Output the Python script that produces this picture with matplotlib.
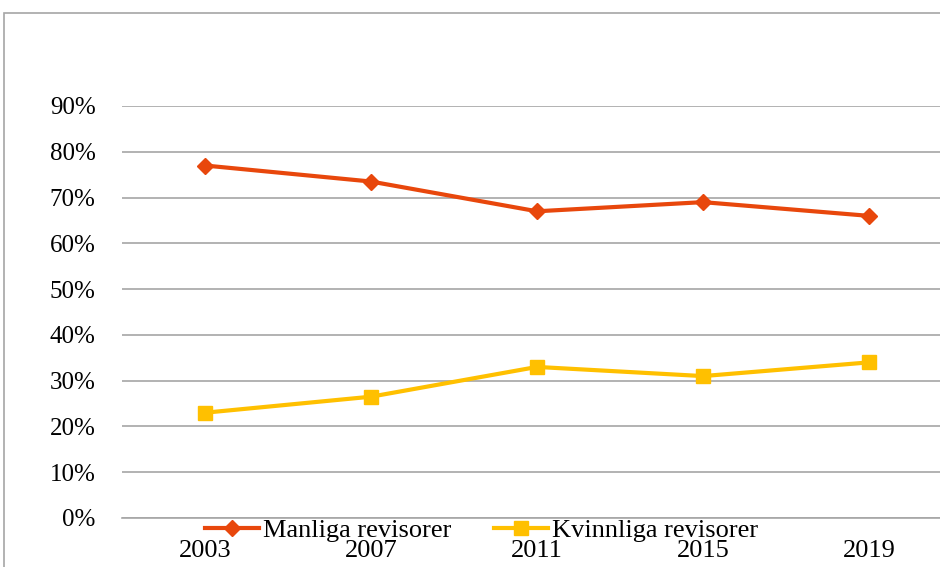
import matplotlib.pyplot as plt
from matplotlib.patches import Rectangle
from matplotlib.ticker import PercentFormatter

years = ['2003', '2007', '2011', '2015', '2019']
manliga = [0.77, 0.735, 0.67, 0.69, 0.66]
kvinnliga = [0.23, 0.265, 0.33, 0.31, 0.34]
yticks = [0.0, 0.1, 0.2, 0.3, 0.4, 0.5, 0.6, 0.7, 0.8, 0.9]

plt.rcParams['font.family'] = ['Liberation Serif', 'DejaVu Serif']

W, H = 940, 567
fig = plt.figure(figsize=(W / 100, H / 100), dpi=100)
# plot area: x 122..952 px, y 106..518 px (right part cropped off the image)
ax = fig.add_axes([122 / W, 1 - 518 / H, 830 / W, (518 - 106) / H])

x = list(range(len(years)))
ax.plot(x, manliga, color='#E8470C', lw=3, marker='D', ms=8.5,
        label='Manliga revisorer')
ax.plot(x, kvinnliga, color='#FFC000', lw=3, marker='s', ms=10.5,
        label='Kvinnliga revisorer')

ax.set_xlim(-0.5, len(years) - 0.5)
ax.set_ylim(0, 0.9)
ax.set_yticks(yticks)
ax.yaxis.set_major_formatter(PercentFormatter(1.0, decimals=0))
ax.set_xticks(x)
ax.set_xticklabels(years)
ax.grid(axis='y', color='#A6A6A6', lw=1.2)
ax.set_axisbelow(True)
for s in ['top', 'right', 'left']:
    ax.spines[s].set_visible(False)
ax.spines['bottom'].set_color('#A6A6A6')
ax.spines['bottom'].set_linewidth(1.2)
ax.tick_params(axis='both', length=0)
ax.tick_params(axis='y', pad=19, labelsize=18)
ax.tick_params(axis='x', pad=16, labelsize=19)

fig.legend(loc='center left', bbox_to_anchor=(205 / W, 1 - 530 / H), ncol=2,
           frameon=False, fontsize=19, handlelength=2.05, handletextpad=0.15,
           columnspacing=1.6, borderaxespad=0, borderpad=0)

# outer chart border
fig.add_artist(Rectangle((4 / W, -0.1), 1.2, 1.1 - 13 / H, transform=fig.transFigure,
                         fill=False, edgecolor='#A6A6A6', lw=1.2))

fig.savefig('out.png', dpi=100)
